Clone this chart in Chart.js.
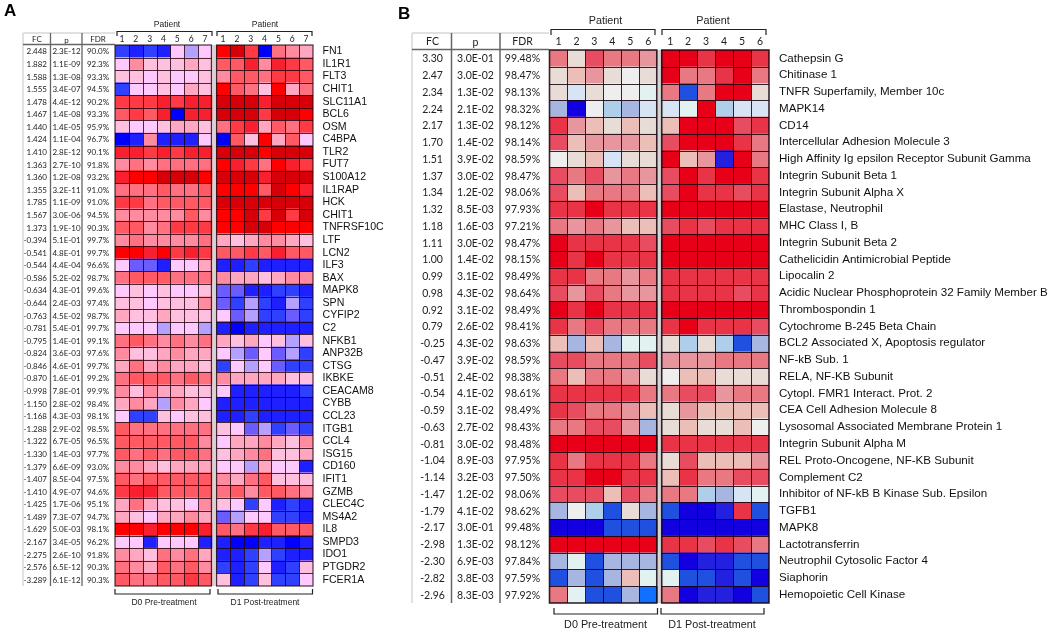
<!DOCTYPE html>
<html>
<head>
<meta charset="utf-8">
<title>Heatmaps</title>
<script src="https://cdn.jsdelivr.net/npm/chart.js@4"></script>
<style>
  html, body { margin: 0; padding: 0; background: #fff; }
  canvas { position: absolute; top: 0; }
  #panelA { left: 0; }
  #panelB { left: 395px; }
</style>
</head>
<body>
<canvas id="panelA" width="395" height="634"></canvas>
<canvas id="panelB" width="655" height="634"></canvas>
<script>
"use strict"
// panel A
const genesA = ["FN1","IL1R1","FLT3","CHIT1","SLC11A1","BCL6","OSM","C4BPA","TLR2","FUT7","S100A12","IL1RAP","HCK","CHIT1","TNFRSF10C","LTF","LCN2","ILF3","BAX","MAPK8","SPN","CYFIP2","C2","NFKB1","ANP32B","CTSG","IKBKE","CEACAM8","CYBB","CCL23","ITGB1","CCL4","ISG15","CD160","IFIT1","GZMB","CLEC4C","MS4A2","IL8","SMPD3","IDO1","PTGDR2","FCER1A"];
const fcA = ["2.448","1.882","1.588","1.555","1.478","1.467","1.440","1.424","1.410","1.363","1.360","1.355","1.785","1.567","1.373","-0.394","-0.541","-0.544","-0.586","-0.634","-0.644","-0.763","-0.781","-0.795","-0.824","-0.846","-0.870","-0.998","-1.150","-1.168","-1.288","-1.322","-1.330","-1.379","-1.407","-1.410","-1.425","-1.489","-1.629","-2.167","-2.275","-2.576","-3.289"];
const pA = ["2.3E-12","1.1E-09","1.3E-08","3.4E-07","4.4E-12","1.4E-08","1.4E-05","1.1E-04","2.8E-12","2.7E-10","1.2E-08","3.2E-11","1.1E-09","3.0E-06","1.9E-10","5.1E-01","4.8E-01","4.4E-04","5.2E-02","4.3E-01","2.4E-03","4.5E-02","5.4E-01","1.4E-01","3.6E-03","4.6E-01","1.6E-01","7.8E-01","2.8E-02","4.3E-03","2.9E-02","6.7E-05","1.4E-03","6.6E-09","8.5E-04","4.9E-07","1.7E-06","7.3E-07","5.0E-03","3.4E-05","2.6E-10","6.5E-12","6.1E-12"];
const fdrA = ["90.0%","92.3%","93.3%","94.5%","90.2%","93.3%","95.9%","96.7%","90.1%","91.8%","93.2%","91.0%","91.0%","94.5%","90.3%","99.7%","99.7%","96.6%","98.7%","99.6%","97.4%","98.7%","99.7%","99.1%","97.6%","99.7%","99.2%","99.9%","98.4%","98.1%","98.5%","96.5%","97.7%","93.0%","97.5%","94.6%","95.1%","94.7%","98.1%","96.2%","91.8%","90.3%","90.3%"];
const paletteA = ["#0000ff","#1f20ff","#3040ff","#6a5cff","#b3a0ff","#fdc9ff","#ffbfdf","#ffa6c0","#ff8ba0","#ff7080","#ff5a64","#ff3a44","#f8202f","#ff0000","#d80008"];
// colour level per gene: 7 D0 patients then 7 D1 patients
const heatA = [
  [2,1,2,1,5,4,5, 13,14,11,0,9,8,7],
  [5,8,6,6,6,7,6, 10,10,12,8,12,11,10],
  [6,6,5,6,5,5,6, 8,10,10,9,11,11,10],
  [2,5,5,6,5,7,6, 13,10,9,6,13,7,9],
  [11,11,11,12,11,12,12, 14,14,14,12,14,14,14],
  [10,11,10,12,0,12,12, 14,14,14,11,14,14,13],
  [6,5,5,6,7,7,6, 9,11,12,7,10,9,11],
  [0,1,8,1,1,1,5, 0,10,6,13,7,10,5],
  [12,12,11,12,11,12,12, 14,14,14,13,14,14,14],
  [8,9,8,9,9,9,9, 13,12,11,9,13,12,11],
  [12,13,13,14,14,14,13, 14,14,14,12,14,14,14],
  [9,9,9,10,9,9,10, 13,13,13,10,14,13,12],
  [11,11,9,10,10,10,10, 14,14,14,14,14,14,14],
  [8,8,8,8,8,10,8, 13,13,14,11,14,11,14],
  [10,10,8,9,11,11,11, 13,13,14,14,13,13,13],
  [8,9,8,8,8,8,9, 7,6,7,8,8,7,6],
  [13,13,12,13,11,12,11, 10,10,11,10,12,10,10],
  [5,3,3,1,5,5,7, 1,1,2,1,1,1,1],
  [9,10,10,10,9,9,9, 8,7,7,6,7,8,8],
  [5,6,5,6,5,5,6, 3,3,1,1,2,2,1],
  [6,6,5,6,6,6,8, 3,2,4,2,1,4,2],
  [7,6,6,7,6,6,6, 5,3,4,2,2,3,2],
  [5,5,5,4,5,5,4, 1,0,1,1,1,1,1],
  [9,10,9,8,9,8,9, 7,6,7,5,6,4,6],
  [8,6,6,7,8,7,7, 5,4,3,5,3,4,2],
  [7,9,7,8,7,7,6, 2,5,4,5,3,2,2],
  [9,10,10,10,9,10,9, 8,7,7,7,7,6,6],
  [8,6,8,7,7,6,6, 5,1,1,1,1,1,2],
  [7,8,7,4,8,7,5, 1,1,1,1,1,1,1],
  [5,2,2,6,5,6,6, 1,1,2,1,1,1,1],
  [10,9,9,9,9,9,9, 6,5,3,4,2,3,2],
  [10,10,10,10,10,10,8, 5,7,7,8,7,6,8],
  [10,9,10,9,10,10,9, 6,7,8,9,6,6,7],
  [8,8,7,6,7,7,7, 5,5,4,7,5,5,1],
  [10,9,10,10,10,10,10, 8,7,9,10,6,6,6],
  [11,12,12,10,10,10,10, 9,10,8,10,10,9,8],
  [7,9,7,6,6,5,8, 6,5,2,5,1,2,1],
  [7,6,5,7,7,8,7, 3,4,5,5,2,2,1],
  [13,13,12,13,13,13,12, 10,9,11,12,10,10,10],
  [5,5,1,5,5,5,1, 1,0,0,1,1,0,1],
  [8,7,6,9,8,9,7, 1,1,2,4,2,1,1],
  [9,8,7,10,9,10,8, 2,1,2,5,1,2,6],
  [10,9,9,10,10,11,10, 6,1,2,6,2,2,5]
];
const patientsA = ["1","2","3","4","5","6","7"];

// panel B
const genesB = ["Cathepsin G","Chitinase 1","TNFR Superfamily, Member 10c","MAPK14","CD14","Intercellular Adhesion Molecule 3","High Affinity Ig epsilon Receptor Subunit Gamma","Integrin Subunit Beta 1","Integrin Subunit Alpha X","Elastase, Neutrophil","MHC Class I, B","Integrin Subunit Beta 2","Cathelicidin Antimicrobial Peptide","Lipocalin 2","Acidic Nuclear Phosphoprotein 32 Family Member B","Thrombospondin 1","Cytochrome B-245 Beta Chain","BCL2 Associated X, Apoptosis regulator","NF-kB Sub. 1","RELA, NF-KB Subunit","Cytopl. FMR1 Interact. Prot. 2","CEA Cell Adhesion Molecule 8","Lysosomal Associated Membrane Protein 1","Integrin Subunit Alpha M","REL Proto-Oncogene, NF-KB Subunit","Complement C2","Inhibitor of NF-kB B Kinase Sub. Epsilon","TGFB1","MAPK8","Lactotransferrin","Neutrophil Cytosolic Factor 4","Siaphorin","Hemopoietic Cell Kinase"];
const fcB = ["3.30","2.47","2.34","2.24","2.17","1.70","1.51","1.37","1.34","1.32","1.18","1.11","1.00","0.99","0.98","0.92","0.79","-0.25","-0.47","-0.51","-0.54","-0.59","-0.63","-0.81","-1.04","-1.14","-1.47","-1.79","-2.17","-2.98","-2.30","-2.82","-2.96"];
const pB = ["3.0E-01","3.0E-02","1.3E-02","2.1E-02","1.3E-02","1.4E-02","3.9E-02","3.0E-02","1.2E-02","8.5E-03","1.6E-03","3.0E-02","1.4E-02","3.1E-02","4.3E-02","3.1E-02","2.6E-02","4.3E-02","3.9E-02","2.4E-02","4.1E-02","3.1E-02","2.7E-02","3.0E-02","8.9E-03","3.2E-03","1.2E-02","4.1E-02","3.0E-01","1.3E-02","6.9E-03","3.8E-03","8.3E-03"];
const fdrB = ["99.48%","98.47%","98.13%","98.32%","98.12%","98.14%","98.59%","98.47%","98.06%","97.93%","97.21%","98.47%","98.15%","98.49%","98.64%","98.49%","98.41%","98.63%","98.59%","98.38%","98.61%","98.49%","98.43%","98.48%","97.95%","97.50%","98.06%","98.62%","99.48%","98.12%","97.84%","97.59%","97.92%"];
const paletteB = ["#1200e0","#2420e0","#2050e0","#1070ff","#a6b6e0","#aeceea","#d6e4f4","#e2f2f0","#eeeeee","#e8dcd6","#ecbeb8","#e8969e","#e87882","#e84c60","#e83446","#e80018"];
// colour level per gene: 6 D0 patients then 6 D1 patients
const heatB = [
  [12,9,13,12,12,11, 15,15,14,15,15,14],
  [9,10,11,9,8,9, 15,12,12,14,15,12],
  [9,6,9,8,8,7, 12,2,12,15,15,9],
  [4,0,8,5,4,6, 6,7,15,5,6,6],
  [14,11,10,9,10,9, 10,15,15,15,13,14],
  [13,10,11,11,11,10, 13,15,15,15,14,12],
  [8,9,10,6,9,9, 15,10,11,1,15,12],
  [13,12,13,11,12,11, 13,15,14,15,15,14],
  [13,10,12,12,12,10, 13,15,14,14,13,14],
  [14,14,15,14,14,14, 15,15,15,15,15,15],
  [12,11,12,11,10,10, 13,14,13,14,14,14],
  [15,14,14,14,14,13, 15,15,15,15,15,15],
  [15,14,15,14,14,14, 15,15,15,15,15,15],
  [14,14,12,12,11,12, 14,14,14,14,14,14],
  [13,11,13,12,11,11, 14,14,14,14,13,14],
  [15,14,15,14,14,14, 15,15,15,15,15,15],
  [14,12,13,12,12,12, 14,15,14,14,14,13],
  [10,4,10,4,7,7, 9,5,9,5,2,4],
  [13,13,12,12,12,13, 11,11,11,12,12,12],
  [12,10,12,12,11,9, 8,10,10,9,9,9],
  [14,14,14,14,14,12, 12,13,13,11,12,12],
  [14,13,12,12,11,10, 9,11,10,10,10,10],
  [12,12,13,13,11,4, 9,10,9,9,10,8],
  [15,15,15,15,15,15, 14,14,14,14,14,14],
  [14,12,14,14,14,12, 9,13,10,10,10,11],
  [14,14,15,15,14,14, 10,14,12,12,13,13],
  [13,13,13,10,13,12, 12,12,5,4,6,7],
  [4,8,5,2,9,4, 2,0,0,1,14,2],
  [0,0,0,2,2,2, 0,0,0,0,0,0],
  [15,15,15,15,15,15, 14,14,13,14,13,12],
  [4,7,2,4,4,4, 2,0,1,1,2,2],
  [2,4,2,4,10,7, 7,2,2,1,2,0],
  [12,7,2,2,4,3, 12,0,1,1,0,2]
];
const patientsB = ["1","2","3","4","5","6"];

const sansFont = "'Liberation Sans', Arial, sans-serif";
const tableFont = "Lato, 'Open Sans', sans-serif";

// black lines between the cells
function cellLines(p) {
    return {
        id: "cellLines",
        afterDatasetsDraw(chart) {
            const ctx = chart.ctx;
            const x = chart.scales.x;
            const y = chart.scales.y;
            const n = p.patients.length;
            const snap = function(v) { return Math.round(v) + 0.5; };
            // block edges sit just inside the light gap
            const leftEnd = x.getPixelForValue(n) - 0.5;
            const rightStart = x.getPixelForValue(n + p.gap) + 0.5;
            ctx.save();
            ctx.strokeStyle = p.cellLine;
            ctx.lineWidth = 1;
            ctx.beginPath();
            for (let i = 1; i < p.genes.length; i++) {
                const py = snap(y.getPixelForValue(i) - y.height / p.genes.length / 2);
                ctx.moveTo(x.left, py);
                ctx.lineTo(leftEnd, py);
                ctx.moveTo(rightStart, py);
                ctx.lineTo(x.right, py);
            }
            for (let c = 1; c < n * 2; c++) {
                if (c == n) continue;
                const px = snap(x.getPixelForValue(c < n ? c : c + p.gap));
                ctx.moveTo(px, y.top);
                ctx.lineTo(px, y.bottom);
            }
            ctx.stroke();
            // frame round both blocks
            ctx.lineWidth = p.frameWidth;
            ctx.strokeRect(x.left, y.top, leftEnd - x.left, y.height);
            ctx.strokeRect(rightStart, y.top, x.right - rightStart, y.height);
            ctx.restore();
        }
    };
}

// the table, brackets and captions round the heatmap
function panelDecor(p) {
    return {
        id: "panelDecor",
        afterDraw(chart) {
            const ctx = chart.ctx;
            const y = chart.scales.y;
            ctx.save();
            ctx.textBaseline = "middle";

            // letter
            ctx.font = "bold " + p.letterSize + "px " + sansFont;
            ctx.textAlign = "left";
            ctx.fillStyle = "#000";
            ctx.fillText(p.letter, p.letterX, p.letterY);

            // table rows
            ctx.fillStyle = "#222";
            ctx.font = p.tableSize + "px " + tableFont;
            p.genes.forEach(function(g, i) {
                const py = y.getPixelForValue(i) + 0.5;
                ctx.textAlign = p.fcAlign;
                ctx.fillText(p.fc[i], p.fcX, py);
                ctx.textAlign = "center";
                ctx.fillText(p.p[i], p.pX, py);
                ctx.fillText(p.fdr[i], p.fdrX, py);
            });

            // table header
            ctx.textAlign = "center";
            ctx.fillText("FC", p.fcHeadX, p.headY);
            ctx.fillText("p", p.pX, p.headY + 1);
            ctx.fillText("FDR", p.fdrX, p.headY);

            // table lines
            ctx.strokeStyle = "#d8d8d8";
            ctx.lineWidth = 1.5;
            ctx.beginPath();
            ctx.moveTo(p.tableX[0], p.tableTop);
            ctx.lineTo(p.tableX[0], y.bottom);
            ctx.moveTo(p.tableX[0], p.tableTop);
            ctx.lineTo(p.tableX[3], p.tableTop);
            ctx.stroke();
            ctx.strokeStyle = "#666";
            ctx.lineWidth = p.ruleWidth;
            ctx.beginPath();
            ctx.moveTo(p.tableX[1], p.tableTop);
            ctx.lineTo(p.tableX[1], y.bottom);
            ctx.moveTo(p.tableX[2], p.tableTop);
            ctx.lineTo(p.tableX[2], y.bottom);
            ctx.moveTo(p.tableX[0], y.top - 0.5);
            ctx.lineTo(p.tableX[3], y.top - 0.5);
            ctx.stroke();

            // brackets
            ctx.strokeStyle = "#222";
            ctx.lineWidth = 1.2;
            ctx.beginPath();
            p.topBrackets.forEach(function(b) {
                ctx.moveTo(b[0], p.topY[1]);
                ctx.lineTo(b[0], p.topY[0]);
                ctx.lineTo(b[1], p.topY[0]);
                ctx.lineTo(b[1], p.topY[1]);
            });
            p.bottomBrackets.forEach(function(b) {
                ctx.moveTo(b[0], p.bottomY[0]);
                ctx.lineTo(b[0], p.bottomY[1]);
                ctx.lineTo(b[1], p.bottomY[1]);
                ctx.lineTo(b[1], p.bottomY[0]);
            });
            ctx.stroke();

            // captions
            ctx.fillStyle = "#222";
            ctx.font = p.captionSize + "px " + sansFont;
            ctx.textAlign = "center";
            p.patientX.forEach(function(x) {
                ctx.fillText("Patient", x, p.patientY);
            });
            ctx.fillText("D0 Pre-treatment", p.captionX[0], p.captionY);
            ctx.fillText("D1 Post-treatment", p.captionX[1], p.captionY);
            ctx.restore();
        }
    };
}

function drawPanel(id, p) {
    const n = p.patients.length;
    const datasets = [];
    // one stacked dataset per patient column, every cell is one unit wide
    for (let c = 0; c < n * 2; c++) {
        if (c == n) {
            datasets.push({
                label: "gap",
                data: p.genes.map(function() { return p.gap; }),
                backgroundColor: "#d4d4d4",
                borderWidth: 0
            });
        }
        datasets.push({
            label: (c < n ? "D0 " : "D1 ") + p.patients[c % n],
            data: p.genes.map(function() { return 1; }),
            backgroundColor: p.heat.map(function(row) { return p.palette[row[c]]; }),
            borderWidth: 0
        });
    }

    const tickLabels = p.patients.concat(p.patients);
    const tickValues = tickLabels.map(function(l, i) {
        return i < n ? i + 0.5 : i + 0.5 + p.gap;
    });

    new Chart(document.getElementById(id), {
        type: "bar",
        data: { labels: p.genes, datasets: datasets },
        plugins: [cellLines(p), panelDecor(p)],
        options: {
            responsive: false,
            animation: false,
            indexAxis: "y",
            barPercentage: 1,
            categoryPercentage: 1,
            layout: { padding: p.padding },
            plugins: { legend: { display: false }, tooltip: { enabled: false } },
            scales: {
                x: {
                    type: "linear",
                    position: "top",
                    stacked: true,
                    min: 0,
                    max: n * 2 + p.gap,
                    grid: { display: false, drawTicks: false },
                    border: { display: false },
                    afterBuildTicks: function(scale) {
                        scale.ticks = tickValues.map(function(v) { return { value: v }; });
                    },
                    afterFit: function(scale) { scale.height = p.xAxisHeight; },
                    ticks: {
                        autoSkip: false,
                        maxRotation: 0,
                        padding: p.xTickPad,
                        color: "#222",
                        font: { family: tableFont, size: p.tickSize },
                        callback: function(v, i) { return tickLabels[i]; }
                    }
                },
                y: {
                    position: "right",
                    stacked: true,
                    grid: { display: false, drawTicks: false },
                    border: { display: false },
                    afterFit: function(scale) { scale.width = p.yAxisWidth; },
                    ticks: {
                        autoSkip: false,
                        padding: p.yTickPad,
                        color: "#111",
                        crossAlign: "near",
                        font: { family: sansFont, size: p.geneSize }
                    }
                }
            }
        }
    });
}

drawPanel("panelA", {
    letter: "A", letterSize: 17, letterX: 4, letterY: 11,
    genes: genesA, fc: fcA, p: pA, fdr: fdrA, heat: heatA, palette: paletteA, patients: patientsA,
    gap: 0.3, cellLine: "rgba(30,0,10,0.8)", frameWidth: 1.2,
    padding: { left: 115, top: 15, right: 0, bottom: 48 },
    xAxisHeight: 30, xTickPad: 1, tickSize: 8.5, yAxisWidth: 82, yTickPad: 9.5, geneSize: 10.6,
    tableSize: 8, fcAlign: "right", fcX: 47, pX: 66.5, fdrX: 98, fcHeadX: 37, headY: 39,
    tableX: [23, 50.5, 82, 115], tableTop: 33, ruleWidth: 1.3,
    topBrackets: [[117, 212], [217, 312]], topY: [31.5, 36],
    bottomBrackets: [[115, 210], [218, 312.5]], bottomY: [589, 594],
    captionSize: 8.5, patientX: [167, 265], patientY: 25,
    captionX: [164, 265], captionY: 603
});

drawPanel("panelB", {
    letter: "B", letterSize: 17, letterX: 3, letterY: 14.5,
    genes: genesB, fc: fcB, p: pB, fdr: fdrB, heat: heatB, palette: paletteB, patients: patientsB,
    gap: 0.22, cellLine: "rgba(20,0,10,0.85)", frameWidth: 1.6,
    padding: { left: 154.5, top: 20, right: 0, bottom: 31 },
    xAxisHeight: 30, xTickPad: 2, tickSize: 10.5, yAxisWidth: 281, yTickPad: 10, geneSize: 11.6,
    tableSize: 10.5, fcAlign: "center", fcX: 37.5, pX: 80.5, fdrX: 127.5, fcHeadX: 37.5, headY: 42,
    tableX: [17, 56.5, 105, 154], tableTop: 33, ruleWidth: 1.5,
    topBrackets: [[156, 260], [267, 371]], topY: [29.5, 35],
    bottomBrackets: [[159, 262.5], [266, 369]], bottomY: [608, 614],
    captionSize: 10.8, patientX: [210.5, 318], patientY: 21,
    captionX: [210.5, 317], captionY: 625.5
});
</script>
</body>
</html>
